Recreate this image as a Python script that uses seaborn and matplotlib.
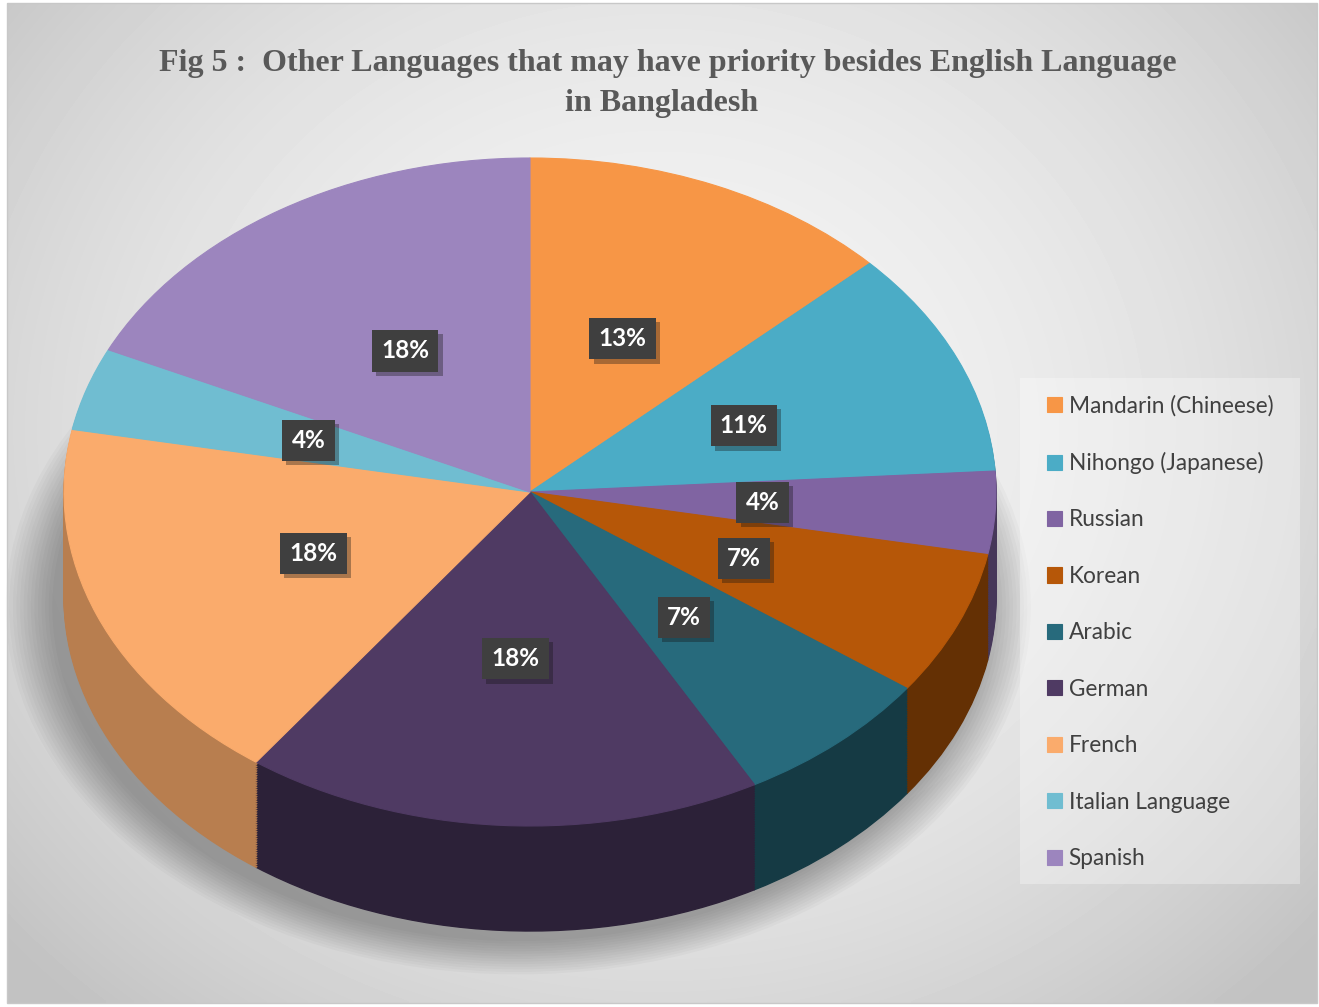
import numpy as np
import matplotlib
matplotlib.use("Agg")
import matplotlib.pyplot as plt
import seaborn as sns
from matplotlib.patches import Circle, Rectangle
import matplotlib.patheffects as pe
from matplotlib.colors import to_rgb

# ---------------- data ----------------
languages = ["Mandarin (Chineese)", "Nihongo (Japanese)", "Russian", "Korean",
             "Arabic", "German", "French", "Italian Language", "Spanish"]
shares = [13, 11, 4, 7, 7, 18, 18, 4, 18]
colors = ["#F79646", "#4BACC6", "#8064A2", "#B65708", "#276A7C",
          "#4F3A63", "#FAAB6C", "#70BDD1", "#9C85BE"]
title_lines = ["Fig 5 :  Other Languages that may have priority besides English Language",
               "in Bangladesh"]

sns.set_theme(style="white")
plt.rcParams['font.family'] = ['Lato', 'DejaVu Sans']

W, H = 1319, 1007
fig = plt.figure(figsize=(W / 100, H / 100), dpi=100, facecolor='white')

# ---------------- background gradient ----------------
x0, y0, x1, y1 = 7, 3, 1317, 1003
bg = fig.add_axes([x0 / W, 1 - y1 / H, (x1 - x0) / W, (y1 - y0) / H])
yy, xx = np.mgrid[0:250, 0:330]
px = x0 + xx / 329 * (x1 - x0)
py = y0 + yy / 249 * (y1 - y0)
d2 = ((px - 660) / 700) ** 2 + ((py - 430) / 620) ** 2
val = np.clip(0.955 - 0.125 * d2, 0.76, 1.0)
bg.imshow(val, cmap='gray', vmin=0, vmax=1, aspect='auto', interpolation='bilinear')
bg.set_axis_off()
fig.add_artist(Rectangle((x0 / W, 1 - y1 / H), (x1 - x0) / W, (y1 - y0) / H,
                         transform=fig.transFigure, fill=False, ec='#C8C8C8', lw=1))

# ---------------- pie axes ----------------
ax = fig.add_axes([0, 0, 1, 1])
ax.patch.set_alpha(0)
cx, cy = 530, 492
RX, RY = 466, 334
depth = 105 / RY

# soft shadow
for r in np.linspace(1.10, 1.0, 14):
    ax.add_patch(Circle((-0.025, -depth - 0.03), r, color='black', alpha=0.022, lw=0, zorder=0))

# side walls
fr = np.cumsum([0] + shares[:-1]) + np.array(shares) / 2
mid = np.deg2rad(90 - np.array(fr) / 100 * 360)
side_colors = []
for c, m in zip(colors, mid):
    f = 0.55 + 0.2 * max(0.0, -np.cos(m))
    side_colors.append(tuple(v * f for v in to_rgb(c)))

N = 45
for k in range(N, 0, -1):
    ws, _ = ax.pie(shares, colors=side_colors, startangle=90, counterclock=False,
                   center=(0, -depth * k / N), wedgeprops=dict(linewidth=1.0))
    for w in ws:
        w.set_edgecolor(w.get_facecolor())

# top face
wedges, texts, autotexts = ax.pie(
    shares, colors=colors, startangle=90, counterclock=False,
    autopct=lambda p: f"{p:.0f}%", pctdistance=0.5,
    wedgeprops=dict(linewidth=0.8),
    textprops=dict(color='white', fontsize=17.5, fontweight='bold'))
for w in wedges:
    w.set_edgecolor(w.get_facecolor())
for t in autotexts:
    t.set_bbox(dict(boxstyle='square,pad=0.38', fc='#3F3F3F', ec='none'))
    t.get_bbox_patch().set_path_effects(
        [pe.SimplePatchShadow(offset=(3, -3), alpha=0.35), pe.Normal()])

ax.set_aspect('auto')
ax.set_xlim(-cx / RX, (W - cx) / RX)
ax.set_ylim(-(H - cy) / RY, cy / RY)
ax.set_axis_off()

# ---------------- legend ----------------
fig.add_artist(Rectangle((1020 / W, 1 - 884 / H), 280 / W, 506 / H,
                         transform=fig.transFigure, fc='white', alpha=0.3, ec='none'))
leg = fig.legend(wedges, languages, loc='upper left',
                 bbox_to_anchor=(1047 / W, 1 - 395 / H), frameon=False,
                 fontsize=16.3, handlelength=0.65, handleheight=0.65,
                 handletextpad=0.3, labelspacing=1.565, borderpad=0, borderaxespad=0)
for t in leg.get_texts():
    t.set_color('#404040')

# ---------------- title ----------------
fig.text(668 / W, 1 - 63 / H, title_lines[0], ha='center', va='center',
         fontsize=23, fontweight='bold', color='#595959', family=['Liberation Serif'])
fig.text(662 / W, 1 - 103 / H, title_lines[1], ha='center', va='center',
         fontsize=23, fontweight='bold', color='#595959', family=['Liberation Serif'])

fig.savefig('out.png', dpi=100, facecolor='white')
